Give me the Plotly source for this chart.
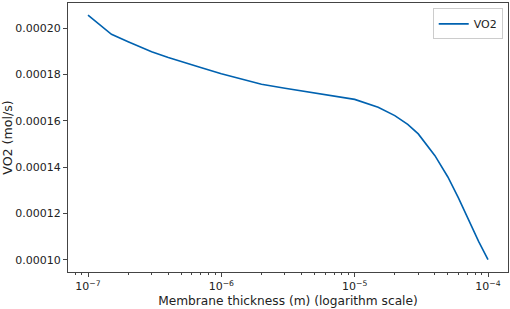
import plotly.graph_objects as go

thickness_m = [1e-7, 1.5e-7, 2e-7, 2.5e-7, 3e-7, 4e-7, 5e-7, 7e-7, 1e-6, 1.5e-6, 2e-6,
               3e-6, 5e-6, 7e-6, 1e-5, 1.5e-5, 2e-5, 2.5e-5, 3e-5, 4e-5, 5e-5, 6e-5,
               7e-5, 8.5e-5, 1e-4]
vo2_mol_s = [0.0002056, 0.0001973, 0.0001941, 0.0001917, 0.0001898, 0.0001873,
             0.0001855, 0.0001830, 0.0001803, 0.0001778, 0.0001757, 0.0001740,
             0.0001719, 0.0001706, 0.0001692, 0.0001658, 0.0001622, 0.0001584,
             0.0001543, 0.0001449, 0.0001357, 0.0001267, 0.0001184, 0.0001079,
             0.0001000]

major_x = [1e-7, 1e-6, 1e-5, 1e-4]
major_x_text = ["10<sup>−7</sup>", "10<sup>−6</sup>", "10<sup>−5</sup>", "10<sup>−4</sup>"]
minor_x = [m * d for d in [1e-8, 1e-7, 1e-6, 1e-5, 1e-4] for m in range(2, 10)]
y_ticks = [0.00010, 0.00012, 0.00014, 0.00016, 0.00018, 0.00020]

font = "DejaVu Sans, Liberation Sans, sans-serif"
axis_col = "#444444"
xrange_log = [-7.15, -3.85]

fig = go.Figure()
fig.add_trace(go.Scatter(x=thickness_m, y=vo2_mol_s, mode="lines", name="VO2",
                         line=dict(color="#0062b0", width=1.6)))
# invisible trace for minor-tick axis
fig.add_trace(go.Scatter(x=[1e-7], y=[0.00015], xaxis="x2", mode="markers",
                         marker=dict(opacity=0), showlegend=False, hoverinfo="skip"))

fig.update_layout(
    width=510, height=309,
    margin=dict(l=68, r=2, t=3, b=37, autoexpand=False),
    paper_bgcolor="white", plot_bgcolor="white",
    font=dict(family=font, size=11, color="#222222"),
    showlegend=True,
    legend=dict(x=0.988, y=0.98, xanchor="right", yanchor="top",
                bgcolor="white", bordercolor="#cccccc", borderwidth=1,
                font=dict(size=11), itemwidth=30),
    xaxis=dict(type="log", range=xrange_log, tickvals=major_x, ticktext=major_x_text,
               ticks="outside", ticklen=4, tickcolor=axis_col, showgrid=False,
               showline=True, linecolor=axis_col, linewidth=1.2, mirror=True,
               zeroline=False, automargin=False,
               title=dict(text="Membrane thickness (m) (logarithm scale)",
                          font=dict(size=12.2), standoff=4)),
    xaxis2=dict(type="log", range=xrange_log, overlaying="x", anchor="y",
                side="bottom", tickvals=minor_x, showticklabels=False,
                ticks="outside", ticklen=2, tickcolor=axis_col, showgrid=False,
                showline=False, zeroline=False, automargin=False),
    yaxis=dict(range=[0.0000947, 0.0002108], tickvals=y_ticks, tickformat=".5f",
               ticks="outside", ticklen=4, tickcolor=axis_col, showgrid=False,
               showline=True, linecolor=axis_col, linewidth=1.2, mirror=True,
               zeroline=False, automargin=False,
               title=dict(text="VO2 (mol/s)", font=dict(size=12.6), standoff=4)),
)

fig.write_html("out.html", config={"displayModeBar": False},
               post_script="document.body.style.margin='0';")
